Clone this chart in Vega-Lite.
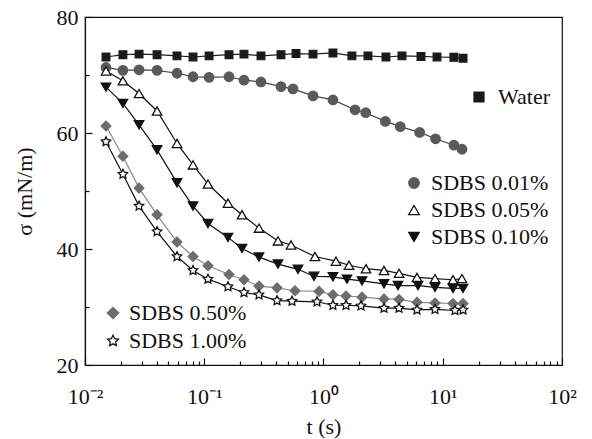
{
  "$schema": "https://vega.github.io/schema/vega-lite/v6.json",
  "width": 477,
  "height": 348,
  "autosize": {"type": "none"},
  "padding": {"left": 85, "top": 17, "right": 30, "bottom": 74},
  "background": "white",
  "config": {
    "font": "Times New Roman, Liberation Serif, serif",
    "view": {"stroke": "#111", "strokeWidth": 1.2},
    "axis": {"grid": false, "domainColor": "#111", "tickColor": "#111", "labelColor": "#111", "titleColor": "#111", "labelFont": "Times New Roman, Liberation Serif, serif", "titleFont": "Times New Roman, Liberation Serif, serif", "labelFontSize": 22, "titleFontSize": 22, "titleFontWeight": "normal", "domainWidth": 1.2, "tickWidth": 1.2},
    "legend": {"labelFont": "Times New Roman, Liberation Serif, serif", "labelFontSize": 22, "labelColor": "#111"}
  },
  "data": {"values": [
    {"series": "Water", "t": 0.0150, "s": 73.1},
    {"series": "Water", "t": 0.0208, "s": 73.5},
    {"series": "Water", "t": 0.0284, "s": 73.6},
    {"series": "Water", "t": 0.0402, "s": 73.5},
    {"series": "Water", "t": 0.0591, "s": 73.3},
    {"series": "Water", "t": 0.0805, "s": 73.1},
    {"series": "Water", "t": 0.1098, "s": 73.3},
    {"series": "Water", "t": 0.1613, "s": 73.5},
    {"series": "Water", "t": 0.2154, "s": 73.6},
    {"series": "Water", "t": 0.2991, "s": 73.3},
    {"series": "Water", "t": 0.4400, "s": 73.5},
    {"series": "Water", "t": 0.5880, "s": 73.7},
    {"series": "Water", "t": 0.8166, "s": 73.6},
    {"series": "Water", "t": 1.20, "s": 73.8},
    {"series": "Water", "t": 1.73, "s": 73.3},
    {"series": "Water", "t": 2.36, "s": 73.3},
    {"series": "Water", "t": 3.34, "s": 73.1},
    {"series": "Water", "t": 4.55, "s": 73.3},
    {"series": "Water", "t": 6.57, "s": 73.2},
    {"series": "Water", "t": 8.95, "s": 73.1},
    {"series": "Water", "t": 12.4, "s": 73.05},
    {"series": "Water", "t": 14.8, "s": 72.9},
    {"series": "SDBS 0.01%", "t": 0.0150, "s": 71.3},
    {"series": "SDBS 0.01%", "t": 0.0208, "s": 70.8},
    {"series": "SDBS 0.01%", "t": 0.0284, "s": 70.9},
    {"series": "SDBS 0.01%", "t": 0.0402, "s": 70.8},
    {"series": "SDBS 0.01%", "t": 0.0591, "s": 70.3},
    {"series": "SDBS 0.01%", "t": 0.0805, "s": 69.7},
    {"series": "SDBS 0.01%", "t": 0.1098, "s": 69.6},
    {"series": "SDBS 0.01%", "t": 0.1613, "s": 69.7},
    {"series": "SDBS 0.01%", "t": 0.2154, "s": 69.1},
    {"series": "SDBS 0.01%", "t": 0.2991, "s": 68.8},
    {"series": "SDBS 0.01%", "t": 0.4400, "s": 68.0},
    {"series": "SDBS 0.01%", "t": 0.5550, "s": 67.6},
    {"series": "SDBS 0.01%", "t": 0.8166, "s": 66.4},
    {"series": "SDBS 0.01%", "t": 1.20, "s": 65.7},
    {"series": "SDBS 0.01%", "t": 1.84, "s": 64.0},
    {"series": "SDBS 0.01%", "t": 2.26, "s": 63.5},
    {"series": "SDBS 0.01%", "t": 3.3, "s": 62.0},
    {"series": "SDBS 0.01%", "t": 4.4, "s": 61.1},
    {"series": "SDBS 0.01%", "t": 6.4, "s": 60.1},
    {"series": "SDBS 0.01%", "t": 8.7, "s": 59.0},
    {"series": "SDBS 0.01%", "t": 12.4, "s": 57.9},
    {"series": "SDBS 0.01%", "t": 14.5, "s": 57.2},
    {"series": "SDBS 0.05%", "t": 0.0150, "s": 70.7},
    {"series": "SDBS 0.05%", "t": 0.0208, "s": 69.0},
    {"series": "SDBS 0.05%", "t": 0.0284, "s": 66.8},
    {"series": "SDBS 0.05%", "t": 0.0402, "s": 63.8},
    {"series": "SDBS 0.05%", "t": 0.0591, "s": 58.2},
    {"series": "SDBS 0.05%", "t": 0.0805, "s": 54.5},
    {"series": "SDBS 0.05%", "t": 0.1075, "s": 51.2},
    {"series": "SDBS 0.05%", "t": 0.1582, "s": 47.9},
    {"series": "SDBS 0.05%", "t": 0.2073, "s": 45.9},
    {"series": "SDBS 0.05%", "t": 0.2878, "s": 43.6},
    {"series": "SDBS 0.05%", "t": 0.4153, "s": 41.4},
    {"series": "SDBS 0.05%", "t": 0.5340, "s": 40.7},
    {"series": "SDBS 0.05%", "t": 0.8484, "s": 38.7},
    {"series": "SDBS 0.05%", "t": 1.273, "s": 37.9},
    {"series": "SDBS 0.05%", "t": 1.636, "s": 37.2},
    {"series": "SDBS 0.05%", "t": 2.272, "s": 36.6},
    {"series": "SDBS 0.05%", "t": 3.216, "s": 36.3},
    {"series": "SDBS 0.05%", "t": 4.30, "s": 35.8},
    {"series": "SDBS 0.05%", "t": 6.08, "s": 35.1},
    {"series": "SDBS 0.05%", "t": 8.61, "s": 34.9},
    {"series": "SDBS 0.05%", "t": 12.19, "s": 34.7},
    {"series": "SDBS 0.05%", "t": 14.49, "s": 34.9},
    {"series": "SDBS 0.10%", "t": 0.0150, "s": 67.9},
    {"series": "SDBS 0.10%", "t": 0.0208, "s": 65.1},
    {"series": "SDBS 0.10%", "t": 0.0284, "s": 61.4},
    {"series": "SDBS 0.10%", "t": 0.0402, "s": 57.1},
    {"series": "SDBS 0.10%", "t": 0.0591, "s": 51.4},
    {"series": "SDBS 0.10%", "t": 0.0805, "s": 47.4},
    {"series": "SDBS 0.10%", "t": 0.1075, "s": 44.4},
    {"series": "SDBS 0.10%", "t": 0.1582, "s": 42.0},
    {"series": "SDBS 0.10%", "t": 0.2073, "s": 40.1},
    {"series": "SDBS 0.10%", "t": 0.2878, "s": 38.6},
    {"series": "SDBS 0.10%", "t": 0.4153, "s": 37.4},
    {"series": "SDBS 0.10%", "t": 0.6111, "s": 36.5},
    {"series": "SDBS 0.10%", "t": 0.8324, "s": 35.3},
    {"series": "SDBS 0.10%", "t": 1.20, "s": 35.2},
    {"series": "SDBS 0.10%", "t": 1.574, "s": 34.8},
    {"series": "SDBS 0.10%", "t": 2.103, "s": 34.5},
    {"series": "SDBS 0.10%", "t": 3.216, "s": 34.0},
    {"series": "SDBS 0.10%", "t": 4.214, "s": 33.7},
    {"series": "SDBS 0.10%", "t": 6.20, "s": 33.7},
    {"series": "SDBS 0.10%", "t": 8.61, "s": 33.4},
    {"series": "SDBS 0.10%", "t": 12.19, "s": 33.2},
    {"series": "SDBS 0.10%", "t": 14.79, "s": 33.2},
    {"series": "SDBS 0.50%", "t": 0.0150, "s": 61.2},
    {"series": "SDBS 0.50%", "t": 0.0208, "s": 56.0},
    {"series": "SDBS 0.50%", "t": 0.0284, "s": 50.5},
    {"series": "SDBS 0.50%", "t": 0.0402, "s": 45.9},
    {"series": "SDBS 0.50%", "t": 0.0591, "s": 41.2},
    {"series": "SDBS 0.50%", "t": 0.0805, "s": 38.7},
    {"series": "SDBS 0.50%", "t": 0.1075, "s": 37.1},
    {"series": "SDBS 0.50%", "t": 0.1613, "s": 35.6},
    {"series": "SDBS 0.50%", "t": 0.2154, "s": 34.7},
    {"series": "SDBS 0.50%", "t": 0.2878, "s": 33.6},
    {"series": "SDBS 0.50%", "t": 0.4074, "s": 33.3},
    {"series": "SDBS 0.50%", "t": 0.5768, "s": 32.8},
    {"series": "SDBS 0.50%", "t": 0.9170, "s": 32.7},
    {"series": "SDBS 0.50%", "t": 1.20, "s": 32.1},
    {"series": "SDBS 0.50%", "t": 1.545, "s": 31.9},
    {"series": "SDBS 0.50%", "t": 2.103, "s": 31.7},
    {"series": "SDBS 0.50%", "t": 3.216, "s": 31.4},
    {"series": "SDBS 0.50%", "t": 4.30, "s": 31.3},
    {"series": "SDBS 0.50%", "t": 6.08, "s": 30.8},
    {"series": "SDBS 0.50%", "t": 8.61, "s": 30.7},
    {"series": "SDBS 0.50%", "t": 12.19, "s": 30.6},
    {"series": "SDBS 0.50%", "t": 14.79, "s": 30.6},
    {"series": "SDBS 1.00%", "t": 0.0150, "s": 58.5},
    {"series": "SDBS 1.00%", "t": 0.0208, "s": 52.9},
    {"series": "SDBS 1.00%", "t": 0.0284, "s": 47.4},
    {"series": "SDBS 1.00%", "t": 0.0402, "s": 43.0},
    {"series": "SDBS 1.00%", "t": 0.0591, "s": 38.7},
    {"series": "SDBS 1.00%", "t": 0.0805, "s": 36.3},
    {"series": "SDBS 1.00%", "t": 0.1075, "s": 34.8},
    {"series": "SDBS 1.00%", "t": 0.1582, "s": 33.5},
    {"series": "SDBS 1.00%", "t": 0.2154, "s": 32.5},
    {"series": "SDBS 1.00%", "t": 0.2878, "s": 32.1},
    {"series": "SDBS 1.00%", "t": 0.4074, "s": 31.1},
    {"series": "SDBS 1.00%", "t": 0.5444, "s": 31.0},
    {"series": "SDBS 1.00%", "t": 0.8820, "s": 30.9},
    {"series": "SDBS 1.00%", "t": 1.20, "s": 30.3},
    {"series": "SDBS 1.00%", "t": 1.545, "s": 30.3},
    {"series": "SDBS 1.00%", "t": 2.063, "s": 30.2},
    {"series": "SDBS 1.00%", "t": 3.216, "s": 29.8},
    {"series": "SDBS 1.00%", "t": 4.30, "s": 29.8},
    {"series": "SDBS 1.00%", "t": 6.08, "s": 29.5},
    {"series": "SDBS 1.00%", "t": 8.61, "s": 29.6},
    {"series": "SDBS 1.00%", "t": 12.67, "s": 29.4},
    {"series": "SDBS 1.00%", "t": 14.79, "s": 29.5}
  ]},
  "layer": [
    {
      "mark": {"type": "line", "strokeWidth": 1.2},
      "encoding": {
        "x": {"field": "t", "type": "quantitative", "scale": {"type": "log", "domain": [0.01, 100], "nice": false},
          "axis": {
            "title": "t (s)",
            "values": [0.01,0.02,0.03,0.04,0.05,0.06,0.07,0.08,0.09,0.1,0.2,0.3,0.4,0.5,0.6,0.7,0.8,0.9,1,2,3,4,5,6,7,8,9,10,20,30,40,50,60,70,80,90,100],
            "labelExpr": "datum.value == 0.01 ? '10⁻²' : datum.value == 0.1 ? '10⁻¹' : datum.value == 1 ? '10⁰' : datum.value == 10 ? '10¹' : datum.value == 100 ? '10²' : ''",
            "tickSize": {"condition": {"test": "indexof([0.01,0.1,1,10,100], datum.value) >= 0", "value": -7}, "value": -4},
            "labelPadding": 28,
            "labelFontSize": 22,
            "titleFontSize": 22,
            "labelFlush": false,
            "labelOverlap": false,
            "titlePadding": 6
          }},
        "y": {"field": "s", "type": "quantitative", "scale": {"domain": [20, 80], "nice": false, "zero": false},
          "axis": {
            "title": "σ (mN/m)",
            "values": [20,30,40,50,60,70,80],
            "labelExpr": "datum.value % 20 == 0 ? datum.label : ''",
            "tickSize": {"condition": {"test": "datum.value % 20 == 0", "value": -7}, "value": -4},
            "labelPadding": 14,
            "labelFontSize": 22,
            "titleFontSize": 22,
            "labelOverlap": false,
            "titlePadding": 20
          }},
        "color": {"field": "series", "type": "nominal",
          "scale": {"domain": ["Water", "SDBS 0.01%", "SDBS 0.05%", "SDBS 0.10%", "SDBS 0.50%", "SDBS 1.00%"], "range": ["#222222", "#444444", "#111111", "#111111", "#8a8a8a", "#111111"]},
          "legend": null}
      }
    },
    {
      "transform": [{"filter": {"field": "series", "oneOf": ["Water"]}}],
      "mark": {"type": "point", "size": 60, "strokeWidth": 1.2, "opacity": 1},
      "encoding": {
        "x": {"field": "t", "type": "quantitative"},
        "y": {"field": "s", "type": "quantitative"},
        "shape": {"field": "series", "type": "nominal", "scale": {"domain": ["Water"], "range": ["square"]},
          "legend": {"orient": "none", "legendX": 383, "legendY": 69, "title": null, "symbolSize": 100, "labelOffset": 8, "padding": 0, "rowPadding": 5, "symbolStrokeWidth": 1.2}},
        "fill": {"field": "series", "type": "nominal", "scale": {"domain": ["Water"], "range": ["#1a1a1a"]}},
        "stroke": {"field": "series", "type": "nominal", "scale": {"domain": ["Water"], "range": ["#1a1a1a"]}}
      }
    },
    {
      "transform": [{"filter": {"field": "series", "oneOf": ["SDBS 0.01%", "SDBS 0.05%", "SDBS 0.10%"]}}],
      "mark": {"type": "point", "size": 90, "strokeWidth": 1.3, "opacity": 1},
      "encoding": {
        "x": {"field": "t", "type": "quantitative"},
        "y": {"field": "s", "type": "quantitative"},
        "shape": {"field": "series", "type": "nominal", "scale": {"domain": ["SDBS 0.01%", "SDBS 0.05%", "SDBS 0.10%"], "range": ["circle", "triangle-up", "triangle-down"]},
          "legend": {"orient": "none", "legendX": 318, "legendY": 155, "title": null, "symbolSize": 110, "labelOffset": 6, "padding": 0, "rowPadding": 5, "symbolStrokeWidth": 1.3}},
        "fill": {"field": "series", "type": "nominal", "scale": {"domain": ["SDBS 0.01%", "SDBS 0.05%", "SDBS 0.10%"], "range": ["#5a5a5a", "#ffffff", "#111111"]}},
        "stroke": {"field": "series", "type": "nominal", "scale": {"domain": ["SDBS 0.01%", "SDBS 0.05%", "SDBS 0.10%"], "range": ["#5a5a5a", "#111111", "#111111"]}}
      }
    },
    {
      "transform": [{"filter": {"field": "series", "oneOf": ["SDBS 0.50%", "SDBS 1.00%"]}}],
      "mark": {"type": "point", "size": 95, "strokeWidth": 1.3, "opacity": 1},
      "encoding": {
        "x": {"field": "t", "type": "quantitative"},
        "y": {"field": "s", "type": "quantitative"},
        "shape": {"field": "series", "type": "nominal", "scale": {"domain": ["SDBS 0.50%", "SDBS 1.00%"], "range": ["diamond", "M0,-1L0.294,-0.405L0.951,-0.309L0.476,0.155L0.588,0.809L0,0.5L-0.588,0.809L-0.476,0.155L-0.951,-0.309L-0.294,-0.405Z"]},
          "legend": {"orient": "none", "legendX": 17, "legendY": 285, "title": null, "symbolSize": 130, "labelOffset": 5, "padding": 0, "rowPadding": 6, "symbolStrokeWidth": 1.3}},
        "fill": {"field": "series", "type": "nominal", "scale": {"domain": ["SDBS 0.50%", "SDBS 1.00%"], "range": ["#6d6d6d", "#ffffff"]}},
        "stroke": {"field": "series", "type": "nominal", "scale": {"domain": ["SDBS 0.50%", "SDBS 1.00%"], "range": ["#6d6d6d", "#111111"]}}
      }
    }
  ],
  "resolve": {"scale": {"shape": "independent", "fill": "independent", "stroke": "independent"}}
}
